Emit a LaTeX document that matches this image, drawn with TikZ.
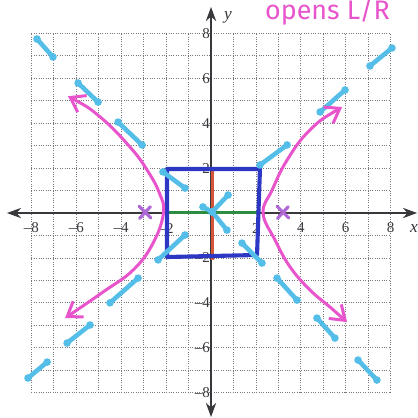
\documentclass[tikz,border=0pt]{standalone}
\usepackage{fontspec}
\setmainfont{Liberation Serif}
\newfontfamily\handfont{Fira Sans}
\usetikzlibrary{arrows.meta}
\definecolor{pinkc}{RGB}{232,84,204}
\definecolor{cyanc}{RGB}{84,190,232}
\definecolor{boxblue}{RGB}{44,56,196}
\definecolor{redc}{RGB}{214,84,56}
\definecolor{greenc}{RGB}{44,140,64}
\definecolor{purplec}{RGB}{176,104,214}
\definecolor{axisc}{RGB}{55,55,60}
\definecolor{gridc}{RGB}{120,120,125}
\newcommand\cyseg[2]{%
  \draw[cyline] #1 -- #2;
  \fill[cyanc] #1 circle (0.17) #2 circle (0.17);}
\begin{document}
\begin{tikzpicture}[x=0.5cm,y=0.5cm,
  gridline/.style={gridc,densely dotted,line width=0.5pt},
  axisline/.style={axisc,line width=1.2pt,-{Stealth[length=9pt,width=6.5pt]}},
  ticklab/.style={font=\fontsize{9.5}{10}\selectfont,inner sep=0.5pt,text=axisc},
  axislab/.style={font=\fontsize{11}{12}\selectfont\itshape,inner sep=0pt,text=axisc},
  cyline/.style={cyanc,line width=2.9pt,line cap=round},
  pinkcurve/.style={pinkc,line width=1.9pt,line cap=round,
    {Straight Barb[length=3mm,width=4.2mm]}-{Straight Barb[length=3mm,width=4.2mm]}},
  boxline/.style={boxblue,line width=2.6pt,line join=round},
  crossline/.style={purplec,line width=2pt,line cap=round}]
\useasboundingbox (-9.399,-9.131) rectangle (9.220,9.488);
% grid
\foreach \k in {-8,...,8}{
  \draw[gridline] (\k,-8) -- (\k,8);
  \draw[gridline] (-8,\k) -- (8,\k);
}
% axes
\coordinate (xl) at (-9.09,0);
\coordinate (xr) at (9.18,0);
\coordinate (yb) at (0,-9.09);
\coordinate (yt) at (0,9.18);
\draw[axisline] (0,0) -- (xr);
\draw[axisline] (0,0) -- (xl);
\draw[axisline] (0,0) -- (yt);
\draw[axisline] (0,0) -- (yb);
\node[axislab] (xlab) at (9.04,-0.67) {x};
\node[axislab] (ylab) at (0.76,8.73) {y};
% tick labels
\foreach \k/\t in {-8/–8,-6/–6,-4/–4,-2/–2,2/2,4/4,6/6,8/8}{
  \node[ticklab] (xt\k) at (\k,-0.67) {\t};
  \node[ticklab,anchor=east] (yt\k) at (0,\k) {\t};
}
% red and green axes of box
\draw[redc,line width=1.9pt] (0.05,2.0) -- (0.05,-2.1);
\draw[greenc,line width=1.9pt] (-2.0,0.04) -- (2.1,0.04);
% blue box
\draw[boxline] (-1.96,1.96) -- (2.18,1.96) -- (2.05,-1.87) -- (-1.96,-1.96) -- cycle;
% cyan marks
\cyseg{(-7.75,7.75)}{(-7.04,6.95)}
\cyseg{(-5.92,5.79)}{(-5.03,4.94)}
\cyseg{(-4.14,4.05)}{(-3.07,3.03)}
\cyseg{(-2.14,1.83)}{(-1.16,1.11)}
\cyseg{(0.05,0.05)}{(0.76,0.80)}
\cyseg{(0.05,0.05)}{(0.71,-0.76)}
\cyseg{(0.05,0.05)}{(-0.36,0.27)}
\cyseg{(2.18,2.14)}{(3.39,3.03)}
\cyseg{(4.86,4.50)}{(5.97,5.48)}
\cyseg{(7.08,6.55)}{(8.06,7.35)}
\cyseg{(-1.16,-0.98)}{(-2.36,-2.09)}
\cyseg{(-3.25,-2.90)}{(-4.50,-4.00)}
\cyseg{(-5.39,-4.99)}{(-6.41,-5.79)}
\cyseg{(-7.30,-6.64)}{(-8.15,-7.35)}
\cyseg{(1.38,-1.34)}{(2.27,-2.23)}
\cyseg{(2.94,-2.90)}{(3.83,-3.88)}
\cyseg{(4.72,-4.68)}{(5.52,-5.57)}
\cyseg{(6.55,-6.55)}{(7.39,-7.44)}
% hyperbola branches
\draw[pinkcurve] plot[smooth,tension=0.7] coordinates
  {(-6.37,5.20) (-4.94,4.28) (-3.61,2.94) (-2.85,1.92) (-2.30,0.89) (-2.12,0) (-2.58,-1.34) (-3.47,-2.54) (-4.81,-3.52) (-6.50,-4.68)};
\draw[pinkcurve] plot[smooth,tension=0.7] coordinates
  {(5.84,4.72) (4.41,3.70) (3.39,2.36) (2.72,1.02) (2.32,0) (2.85,-1.20) (3.52,-2.40) (4.41,-3.43) (5.30,-4.19) (6.06,-4.86)};
% foci marks
\foreach \fx in {-2.94,3.2}{
  \draw[crossline] (\fx-0.26,0.30) -- (\fx+0.26,-0.22);
  \draw[crossline] (\fx-0.24,-0.24) -- (\fx+0.24,0.28);
}
% note
\node[anchor=base west,inner sep=0pt,text=pinkc,font=\handfont\fontsize{17}{18}\selectfont] (note) at (2.4,8.6) {opens L/R};
\end{tikzpicture}
\end{document}
